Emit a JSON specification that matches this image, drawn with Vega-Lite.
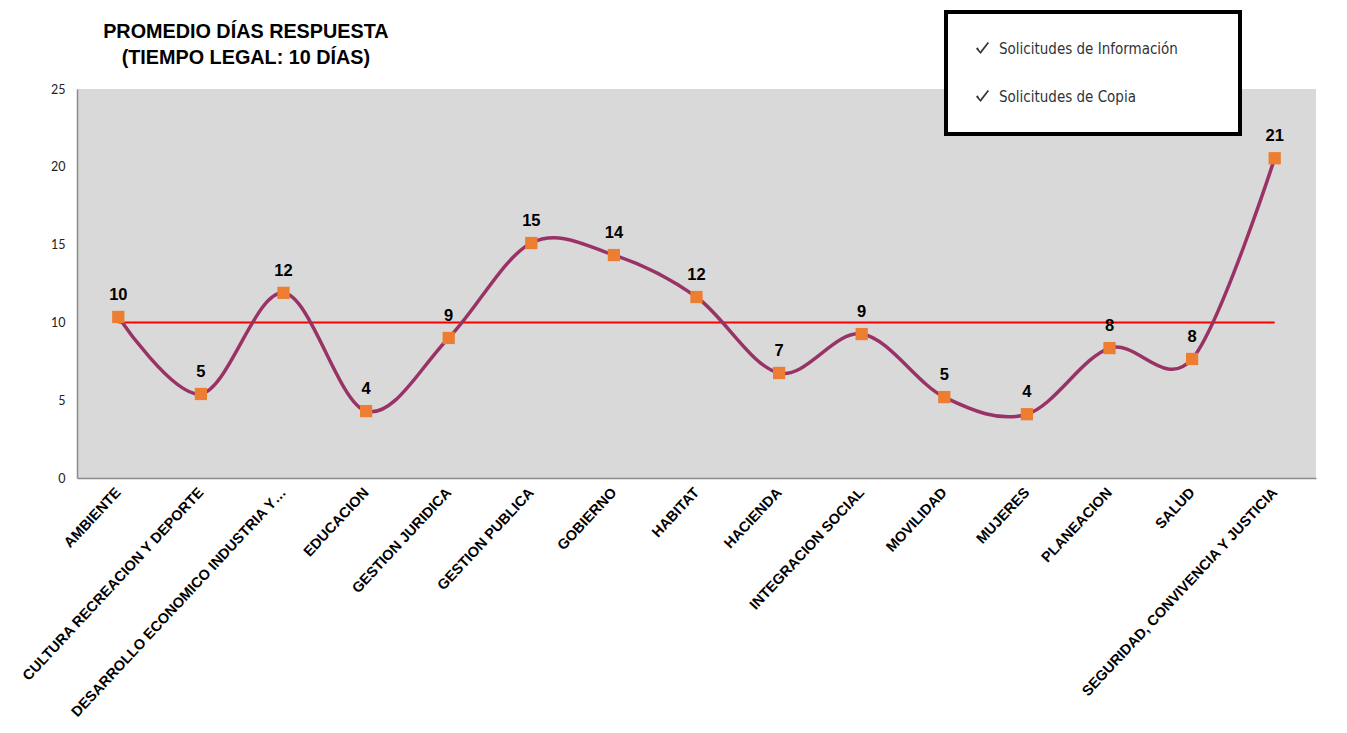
{
  "$schema": "https://vega.github.io/schema/vega-lite/v6.json",
  "width": 1239,
  "height": 389,
  "autosize": {"type": "none"},
  "padding": {"left": 77, "top": 89, "right": 31, "bottom": 255},
  "background": "white",
  "view": {"fill": "#D9D9D9", "stroke": null},
  "title": {
    "text": ["PROMEDIO DÍAS RESPUESTA", "(TIEMPO LEGAL: 10 DÍAS)"],
    "anchor": "start",
    "align": "center",
    "dx": 227,
    "font": "Liberation Sans",
    "fontSize": 19.8,
    "fontWeight": "bold",
    "color": "#000000",
    "lineHeight": 26,
    "offset": -58
  },
  "config": {
    "view": {"fill": "#D9D9D9", "stroke": null},
    "axis": {"grid": false, "ticks": false, "domainColor": "#8c8c8c", "domainWidth": 1.5}
  },
  "datasets": {
    "main": [
      {"cat": "AMBIENTE", "value": 10.35},
      {"cat": "CULTURA RECREACION Y DEPORTE", "value": 5.4},
      {"cat": "DESARROLLO ECONOMICO INDUSTRIA Y…", "value": 11.9},
      {"cat": "EDUCACION", "value": 4.3},
      {"cat": "GESTION JURIDICA", "value": 9.0},
      {"cat": "GESTION PUBLICA", "value": 15.1},
      {"cat": "GOBIERNO", "value": 14.33},
      {"cat": "HABITAT", "value": 11.63},
      {"cat": "HACIENDA", "value": 6.75},
      {"cat": "INTEGRACION SOCIAL", "value": 9.25},
      {"cat": "MOVILIDAD", "value": 5.2},
      {"cat": "MUJERES", "value": 4.1},
      {"cat": "PLANEACION", "value": 8.35},
      {"cat": "SALUD", "value": 7.65},
      {"cat": "SEGURIDAD, CONVIVENCIA Y  JUSTICIA", "value": 20.55}
    ],
    "legend": [
      {"leg": "Solicitudes de Información"},
      {"leg": "Solicitudes de Copia"}
    ]
  },
  "layer": [
    {
      "data": {"name": "main"},
      "mark": {"type": "line", "color": "#FF0000", "strokeWidth": 2},
      "encoding": {
        "x": {
          "field": "cat", "type": "nominal", "sort": null, "title": null,
          "axis": {
            "labelAngle": -47,
            "labelFont": "Liberation Sans",
            "labelFontWeight": "bold",
            "labelFontSize": 14.5,
            "labelColor": "#000000",
            "labelPadding": 12,
            "labelLimit": 400
          }
        },
        "y": {
          "datum": 10, "type": "quantitative",
          "scale": {"domain": [0, 25], "nice": false},
          "title": null,
          "axis": {
            "values": [0, 5, 10, 15, 20, 25],
            "labelFont": "Lato",
            "labelFontSize": 12.5,
            "labelColor": "#222222",
            "labelPadding": 12
          }
        }
      }
    },
    {
      "data": {"name": "main"},
      "mark": {"type": "line", "color": "#993366", "strokeWidth": 3.5, "interpolate": "cardinal", "tension": 0},
      "encoding": {
        "x": {"field": "cat", "type": "nominal", "sort": null, "title": null},
        "y": {"field": "value", "type": "quantitative", "title": null, "scale": {"domain": [0, 25], "nice": false}}
      }
    },
    {
      "data": {"name": "main"},
      "mark": {"type": "point", "shape": "square", "filled": true, "color": "#ED7D31", "size": 150, "opacity": 1},
      "encoding": {
        "x": {"field": "cat", "type": "nominal", "sort": null, "title": null},
        "y": {"field": "value", "type": "quantitative", "title": null, "scale": {"domain": [0, 25], "nice": false}}
      }
    },
    {
      "data": {"name": "main"},
      "mark": {"type": "text", "font": "Liberation Sans", "fontWeight": "bold", "fontSize": 16.5, "color": "#000000", "dy": -22, "baseline": "middle"},
      "encoding": {
        "x": {"field": "cat", "type": "nominal", "sort": null, "title": null},
        "y": {"field": "value", "type": "quantitative", "title": null, "scale": {"domain": [0, 25], "nice": false}},
        "text": {"field": "value", "type": "quantitative", "format": ".0f"}
      }
    },
    {
      "data": {"name": "legend"},
      "mark": {"type": "text", "text": ""},
      "encoding": {
        "color": {
          "field": "leg", "type": "nominal",
          "scale": {"domain": ["Solicitudes de Información", "Solicitudes de Copia"], "range": ["#333333", "#333333"]},
          "legend": {
            "title": ".",
            "titleColor": "#FFFFFF",
            "titleOrient": "right",
            "titlePadding": 28,
            "titleFontSize": 15,
            "orient": "none",
            "legendX": 869,
            "legendY": -77,
            "fillColor": "#FFFFFF",
            "strokeColor": "#000000",
            "padding": 29,
            "rowPadding": 32,
            "symbolType": "M-1,0.05L-0.75,-0.2L-0.35,0.45L0.8,-1L1,-0.85L-0.3,0.85Z",
            "symbolSize": 170,
            "symbolOpacity": 1,
            "symbolStrokeWidth": 0,
            "labelFont": "DejaVu Sans Condensed",
            "labelFontSize": 15,
            "labelColor": "#333333",
            "labelOffset": 9,
            "labelLimit": 400,
            "encode": {
              "legend": {"update": {"strokeWidth": {"value": 4}}}
            }
          }
        }
      }
    }
  ]
}
